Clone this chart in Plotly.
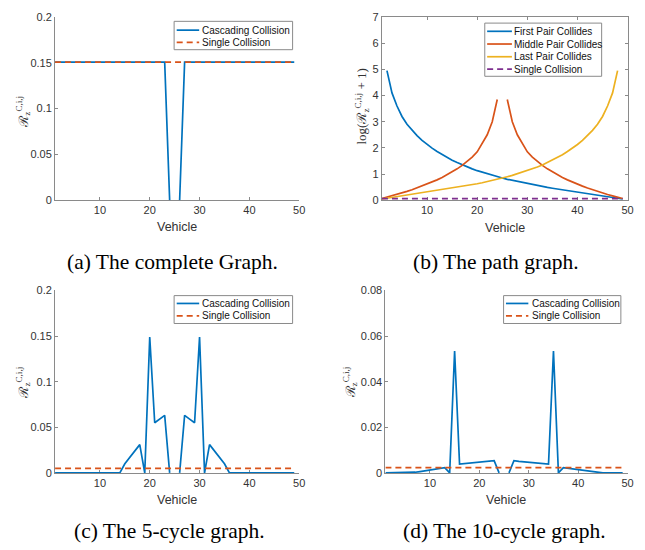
import plotly.graph_objects as go

# The page body has an 8px default margin, so the figure is drawn 8px in
# from the window's top-left corner; size it so it fills the rest exactly.
OFF = 8
W, H = 645 - OFF, 550 - OFF

# ---------------- data ----------------
vehicles = list(range(1, 50))

# (a) complete graph
complete_cascading = [0.1507] * 23 + [0.0, None, 0.0] + [0.1507] * 23
complete_single = [0.1507] * 49

# (b) path graph, log(R+1)
path_first = [None, 4.95, 4.1, 3.6, 3.2, 2.9, 2.67, 2.47, 2.29, 2.13,
              1.99, 1.86, 1.74, 1.63, 1.53, 1.44, 1.35, 1.27, 1.2, 1.13,
              1.07, 1.01, 0.95, 0.9, 0.85, 0.8, 0.76, 0.71, 0.67, 0.63,
              0.59, 0.56, 0.52, 0.49, 0.46, 0.43, 0.4, 0.37, 0.34, 0.31,
              0.28, 0.25, 0.22, 0.19, 0.16, 0.13, 0.1, 0.08, 0.05]
path_middle = [0.07, 0.12, 0.17, 0.22, 0.28, 0.34, 0.4, 0.47, 0.54, 0.61,
               0.69, 0.78, 0.87, 0.97, 1.08, 1.2, 1.33, 1.48, 1.65, 1.85,
               2.15, 2.5, 3.0, 3.85, None, 3.85, 3.0, 2.5, 2.15, 1.85,
               1.65, 1.48, 1.33, 1.2, 1.08, 0.97, 0.87, 0.78, 0.69, 0.61,
               0.54, 0.47, 0.4, 0.34, 0.28, 0.22, 0.17, 0.12, 0.07]
path_last = [0.05, 0.08, 0.1, 0.13, 0.16, 0.19, 0.22, 0.25, 0.28, 0.31,
             0.34, 0.37, 0.4, 0.43, 0.46, 0.49, 0.52, 0.56, 0.59, 0.63,
             0.67, 0.71, 0.76, 0.8, 0.85, 0.9, 0.95, 1.01, 1.07, 1.13,
             1.2, 1.27, 1.35, 1.44, 1.53, 1.63, 1.74, 1.86, 1.99, 2.13,
             2.29, 2.47, 2.67, 2.9, 3.2, 3.6, 4.1, 4.95, None]
path_single = [0.06] * 49

# (c) 5-cycle graph
c5_cascading = [0.0] * 14 + [0.010, 0.017, 0.024, 0.031, 0.0, 0.149, 0.055,
                             0.059, 0.063, 0.0, None, 0.0, 0.063, 0.059,
                             0.055, 0.149, 0.0, 0.031, 0.024, 0.017, 0.010] + [0.0] * 14
c5_single = [0.005] * 49

# (d) 10-cycle graph
c10_cascading = [0.0] * 6 + [0.0003, 0.0006, 0.0010, 0.0014, 0.0017, 0.0020,
                             0.0023, 0.0, 0.0534, 0.0039, 0.0041, 0.0043,
                             0.0045, 0.0047, 0.0049, 0.0051, 0.0054, 0.0,
                             None, 0.0, 0.0054, 0.0051, 0.0049, 0.0047,
                             0.0045, 0.0043, 0.0041, 0.0039, 0.0534, 0.0,
                             0.0023, 0.0020, 0.0017, 0.0014, 0.0010, 0.0006,
                             0.0003] + [0.0] * 6
c10_single = [0.0023] * 49

x_ticks = [10, 20, 30, 40, 50]
y_ticks_a = [0, 0.05, 0.1, 0.15, 0.2]
y_ticklabels_a = ["0", "0.05", "0.1", "0.15", "0.2"]
y_ticks_b = [0, 1, 2, 3, 4, 5, 6, 7]
y_ticks_d = [0, 0.02, 0.04, 0.06, 0.08]
y_ticklabels_d = ["0", "0.02", "0.04", "0.06", "0.08"]

captions = ["(a) The complete Graph.", "(b) The path graph.",
            "(c) The 5-cycle graph.", "(d) The 10-cycle graph."]

# ---------------- style ----------------
BLUE, ORANGE, YELLOW, PURPLE = "#0072BD", "#D95319", "#EDB120", "#7E2F8E"
AXC = "#8a8a8a"
TXT = "#333333"
SANS = "Liberation Sans, Arial, sans-serif"
SERIF = "Liberation Serif, Times New Roman, serif"
LW = 1.7
DASH = "6px,4px"

fig = go.Figure()
shapes = []
annotations = []


# convert window pixel positions (as measured on the reference) to paper
def px(v):
    return (v - OFF) / W


def py(v):
    return 1 - (v - OFF) / H


def add(y, name, color, ax, dash=None):
    fig.add_trace(go.Scatter(
        x=vehicles, y=y, mode="lines", name=name, showlegend=False,
        line=dict(color=color, width=LW, dash=dash),
        xaxis="x" + ax, yaxis="y" + ax,
        cliponaxis=False, connectgaps=False, hoverinfo="skip"))


def legend_box(x0, x1, y0, y1, entries, sx0, sx1, tx, rows):
    # MATLAB-style legend: framed white box, short line sample, label
    shapes.append(dict(type="rect", xref="paper", yref="paper",
                       x0=px(x0), x1=px(x1), y0=py(y1), y1=py(y0),
                       fillcolor="white", line=dict(color=AXC, width=1),
                       layer="above"))
    for (name, color, dash), ry in zip(entries, rows):
        shapes.append(dict(type="line", xref="paper", yref="paper",
                           x0=px(sx0), x1=px(sx1), y0=py(ry), y1=py(ry),
                           line=dict(color=color, width=LW, dash=dash),
                           layer="above"))
        annotations.append(dict(text=name, x=px(tx), y=py(ry), xref="paper",
                                yref="paper", showarrow=False,
                                xanchor="left", yanchor="middle",
                                borderpad=0,
                                font=dict(family=SANS, size=10, color="#111111")))


entries_a = [("Cascading Collision", BLUE, None), ("Single Collision", ORANGE, DASH)]
entries_b = [("First Pair Collides", BLUE, None), ("Middle Pair Collides", ORANGE, None),
             ("Last Pair Collides", YELLOW, None), ("Single Collision", PURPLE, DASH)]

add(complete_cascading, entries_a[0][0], BLUE, "")
add(complete_single, entries_a[1][0], ORANGE, "", DASH)
add(path_first, entries_b[0][0], BLUE, "2")
add(path_middle, entries_b[1][0], ORANGE, "2")
add(path_last, entries_b[2][0], YELLOW, "2")
add(path_single, entries_b[3][0], PURPLE, "2", DASH)
add(c5_cascading, entries_a[0][0], BLUE, "3")
add(c5_single, entries_a[1][0], ORANGE, "3", DASH)
add(c10_cascading, entries_a[0][0], BLUE, "4")
add(c10_single, entries_a[1][0], ORANGE, "4", DASH)

legend_box(175.7, 295.3, 15.5, 44.5, entries_a, 178.3, 201, 202.5, [24.5, 37])
legend_box(489.3, 607.3, 17.3, 71.7, entries_b, 491.7, 516.7, 518.3,
           [25.7, 38.7, 51.7, 64.3])
legend_box(175.7, 295.3, 296, 324.5, entries_a, 178.3, 201, 202.5, [304, 316.7])
legend_box(508.3, 626.7, 296, 324.5, entries_a, 510.7, 533.3, 535.5, [304, 316.7])


def xaxis(dom, anchor, mirror=False):
    return dict(domain=dom, anchor=anchor, range=[1, 50], tickvals=x_ticks,
                showline=True, linecolor=AXC, linewidth=1, ticks="inside",
                ticklen=3, tickcolor=AXC, mirror="ticks" if mirror else False,
                showgrid=False, zeroline=False, layer="below traces",
                tickfont=dict(family=SANS, size=11, color=TXT))


def yaxis(dom, anchor, rng, vals, text, mirror=False):
    return dict(domain=dom, anchor=anchor, range=rng, tickvals=vals,
                ticktext=text, showline=True, linecolor=AXC, linewidth=1,
                ticks="inside", ticklen=3, tickcolor=AXC,
                mirror="ticks" if mirror else False, showgrid=False,
                zeroline=False, layer="below traces",
                tickfont=dict(family=SANS, size=11, color=TXT))


xa = [px(55.5), px(302)]
xb = [px(385.5), px(633.5)]
xd = [px(389), px(633.5)]
ytop = [py(198.5), py(11)]
ybot = [py(477.3), py(290.7)]


def ann(text, x, y, size, family, angle=0, color=TXT):
    annotations.append(dict(text=text, x=px(x), y=py(y), xref="paper",
                            yref="paper", showarrow=False, xanchor="center",
                            yanchor="middle", textangle=angle,
                            font=dict(family=family, size=size, color=color)))


rlabel = "ℛ<sub>z</sub><sup>C,i,j</sup>"
for (cx, cy) in [(178.5, 226), (510, 226.5), (178.5, 505), (511, 505)]:
    ann("Vehicle", cx, cy, 12.5, SANS)
ann(rlabel, 23, 108, 13, SERIF, -90)
ann(rlabel, 23, 385, 13, SERIF, -90)
ann(rlabel, 353, 385, 13, SERIF, -90)
ann("log(" + rlabel + " + 1)", 365, 103, 13, SERIF, -90)

for cap, (cx, cy) in zip(captions, [(174, 262), (501, 262), (171, 537), (509, 537)]):
    ann(cap, cx, cy, 21.5, SERIF, color="#000000")

fig.update_layout(
    width=W, height=H, margin=dict(l=0, r=0, t=0, b=0),
    paper_bgcolor="white", plot_bgcolor="white", showlegend=False,
    xaxis=xaxis(xa, "y"), yaxis=yaxis(ytop, "x", [0, 0.2], y_ticks_a, y_ticklabels_a),
    xaxis2=xaxis(xb, "y2", True),
    yaxis2=yaxis(ytop, "x2", [0, 7], y_ticks_b, [str(v) for v in y_ticks_b], True),
    xaxis3=xaxis(xa, "y3"),
    yaxis3=yaxis(ybot, "x3", [0, 0.2], y_ticks_a, y_ticklabels_a),
    xaxis4=xaxis(xd, "y4"),
    yaxis4=yaxis(ybot, "x4", [0, 0.08], y_ticks_d, y_ticklabels_d),
    shapes=shapes,
    annotations=annotations,
)

fig.write_html("out.html")
